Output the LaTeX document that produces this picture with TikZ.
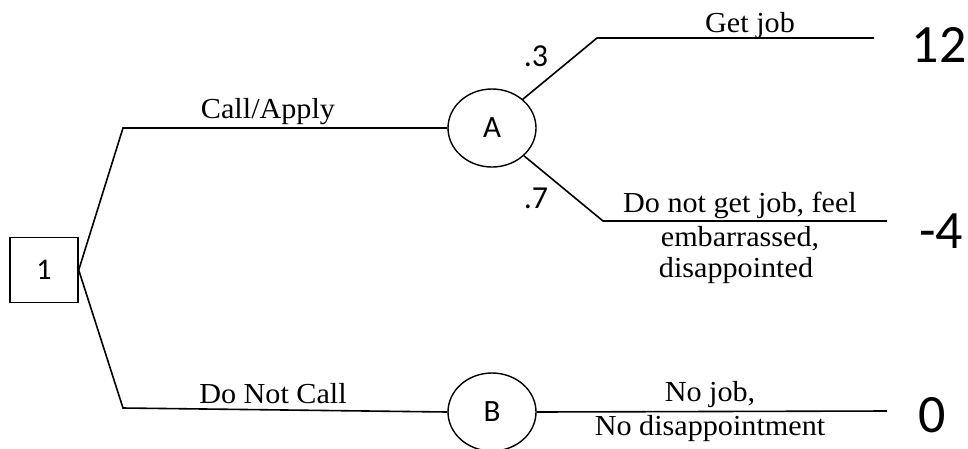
\documentclass[tikz,border=0pt]{standalone}
\usepackage{fontspec}
\setmainfont{Liberation Serif}[FakeStretch=1.04]
\newfontfamily\sansf{Carlito}
\usetikzlibrary{shapes.geometric}
\begin{document}
\begin{tikzpicture}[x=1pt,y=-1pt,
  edge/.style={line width=1.6pt},
  decision/.style={draw,line width=1.4pt,rectangle,minimum width=68pt,minimum height=65pt,inner sep=0pt},
  chance/.style={draw,line width=1.4pt,ellipse,minimum width=88pt,minimum height=78pt,inner sep=0pt},
  lab/.style={inner sep=0pt,anchor=base,font=\fontsize{29}{30}\selectfont},
  slab/.style={inner sep=0pt,anchor=base,font=\sansf\fontsize{32}{33}\selectfont},
  payoff/.style={inner sep=0pt,anchor=base,font=\sansf\fontsize{54}{56}\selectfont}]
\useasboundingbox (0,0) rectangle (968,448);

% decision and chance nodes
\node[decision] (n1) at (44,270) {\sansf\fontsize{30}{31}\selectfont 1};
\node[chance] (A) at (492,128) {\sansf\fontsize{31}{32}\selectfont A};
\node[chance] (B) at (492,412) {\sansf\fontsize{31}{32}\selectfont B};

% bend points and branch ends
\coordinate (up) at (123,128);
\coordinate (dn) at (123,408);
\coordinate (gk) at (597,38);
\coordinate (ge) at (874,38);
\coordinate (nk) at (603,221);
\coordinate (ne) at (887,221);
\coordinate (be) at (887,411);

% branches
\draw[edge] (n1.east) -- (up) -- (A.west);
\draw[edge] (n1.east) -- (dn) -- (B.west);
\draw[edge] (A.43) -- (gk) -- (ge);
\draw[edge] (A.-41) -- (nk) -- (ne);
\draw[edge] (B.east) -- (be);

% branch labels
\node[lab] (l1) at (268,118) {Call/Apply};
\node[lab] (l2) at (273,403) {Do Not Call};
\node[lab] (l3) at (750,32) {Get job};
\node[lab] (l4) at (740,212) {Do not get job, feel};
\node[lab] (l5) at (740,246) {embarrassed,};
\node[lab] (l6) at (736,277) {disappointed};
\node[lab] (l7) at (710,401) {No job,};
\node[lab] (l8) at (710,435) {No disappointment};

% probabilities
\node[slab] (p1) at (536,66) {.3};
\node[slab] (p2) at (536,208) {.7};

% payoffs
\node[payoff] (v1) at (939,62) {12};
\node[payoff] (v2) at (941,248) {-4};
\node[payoff] (v3) at (932,432) {0};
\end{tikzpicture}
\end{document}
